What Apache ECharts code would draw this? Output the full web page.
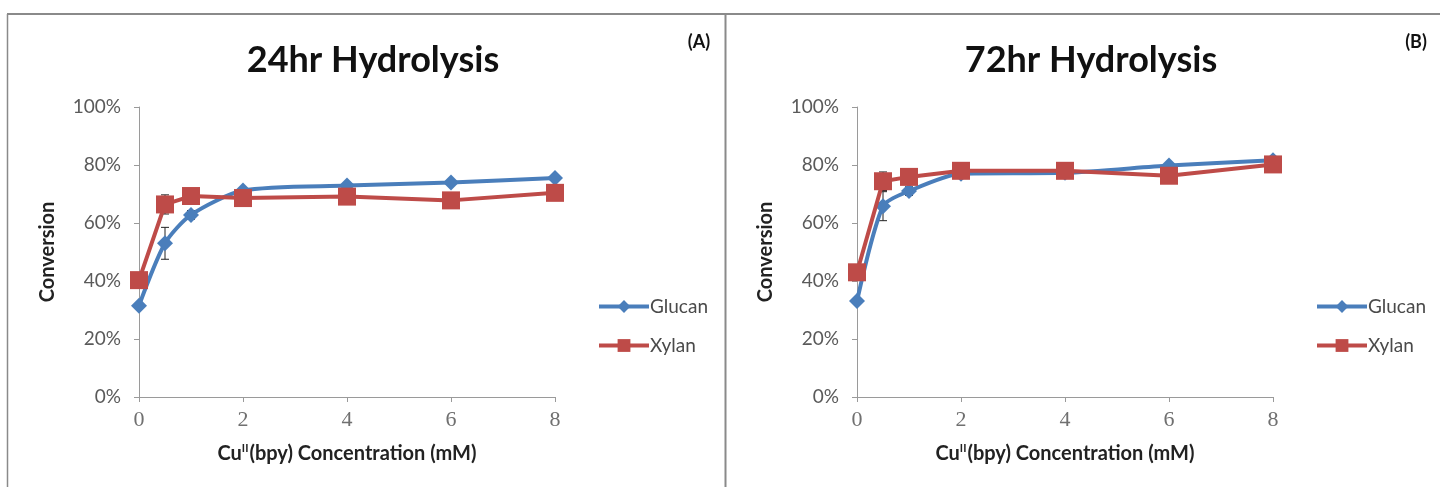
<!DOCTYPE html>
<html>
<head>
<meta charset="utf-8">
<script src="https://cdn.jsdelivr.net/npm/echarts@6/dist/echarts.min.js"></script>
<style>
html,body{margin:0;padding:0;background:#fff;}
#c{width:1440px;height:487px;}
</style>
</head>
<body>
<div id="c"></div>
<script>
// ---- data ----
const concentrations = [0, 0.5, 1, 2, 4, 6, 8];
const xTicks = [0, 2, 4, 6, 8];
const yTicks = [0, 20, 40, 60, 80, 100];
const panelTitles = ['24hr Hydrolysis', '72hr Hydrolysis'];
const panelTags = ['(A)', '(B)'];
const seriesNames = ['Glucan', 'Xylan'];
const glucan24 = [31.5, 53.0, 62.8, 71.2, 72.9, 74.0, 75.5];
const xylan24 = [40.3, 66.4, 69.3, 68.6, 69.1, 67.8, 70.4];
const glucan24Err = [1.0, 5.5, 1.5, 1.0, 1.0, 1.0, 1.0];
const xylan24Err = [1.0, 3.3, 1.0, 1.0, 1.0, 1.0, 1.0];
const glucan72 = [33.1, 65.8, 71.0, 77.0, 77.3, 79.8, 81.6];
const xylan72 = [43.0, 74.4, 75.9, 78.0, 78.0, 76.3, 80.2];
const glucan72Err = [1.0, 5.0, 1.5, 1.0, 1.0, 1.0, 1.0];
const xylan72Err = [1.0, 3.2, 1.0, 1.0, 1.0, 1.0, 1.0];

const BLUE = '#4A7EBB';
const RED = '#BE4B48';
const FONT = 'Lato, "Open Sans", sans-serif';

const panels = [
  {left: 139, legendLeft: 592, glucan: glucan24, xylan: xylan24, gErr: glucan24Err, xErr: xylan24Err, titleX: 368, tagX: 694},
  {left: 857, legendLeft: 1310, glucan: glucan72, xylan: xylan72, gErr: glucan72Err, xErr: xylan72Err, titleX: 1086, tagX: 1411}
];

const chart = echarts.init(document.getElementById('c'), null, {renderer: 'canvas'});

const grids = [], xAxes = [], yAxes = [], series = [], titles = [], legends = [];

function errSeries(idx, vals, errs) {
  return {
    type: 'custom', xAxisIndex: idx, yAxisIndex: idx, z: 1, silent: true,
    data: concentrations.map((c, i) => [c, vals[i] - errs[i], vals[i] + errs[i]]),
    renderItem: function (params, api) {
      const lo = api.coord([api.value(0), api.value(1)]);
      const hi = api.coord([api.value(0), api.value(2)]);
      const w = 4;
      const st = {stroke: '#222', lineWidth: 1};
      return {type: 'group', children: [
        {type: 'line', shape: {x1: lo[0], y1: lo[1], x2: hi[0], y2: hi[1]}, style: st},
        {type: 'line', shape: {x1: lo[0] - w, y1: lo[1], x2: lo[0] + w, y2: lo[1]}, style: st},
        {type: 'line', shape: {x1: hi[0] - w, y1: hi[1], x2: hi[0] + w, y2: hi[1]}, style: st}
      ]};
    }
  };
}

panels.forEach((p, idx) => {
  grids.push({left: p.left, top: 107, width: 416, height: 290});
  xAxes.push({
    type: 'value', gridIndex: idx, min: 0, max: 8, interval: 2,
    axisLine: {lineStyle: {color: '#9a9a9a', width: 1}},
    axisTick: {show: true, length: 5, lineStyle: {color: '#9a9a9a'}},
    splitLine: {show: false},
    axisLabel: {color: '#707070', fontFamily: 'Liberation Serif, serif', fontSize: 22, margin: 12,
      formatter: v => xTicks.includes(v) ? String(v) : ''},
    name: '{a|Cu}{s|II}{a|(bpy) Concentration (mM)}',
    nameLocation: 'middle', nameGap: 46,
    nameTextStyle: {rich: {
      a: {fontFamily: FONT, fontWeight: 'bold', fontSize: 20, color: '#222'},
      s: {fontFamily: FONT, fontWeight: 'bold', fontSize: 11, color: '#222', verticalAlign: 'top', padding: [0, 1, 10, 0]}
    }}
  });
  yAxes.push({
    type: 'value', gridIndex: idx, min: 0, max: 100, interval: 20,
    axisLine: {show: true, lineStyle: {color: '#9a9a9a', width: 1}},
    axisTick: {show: true, length: 5, lineStyle: {color: '#9a9a9a'}},
    splitLine: {show: false},
    axisLabel: {color: '#5a5a5a', fontFamily: FONT, fontSize: 19, margin: 18,
      formatter: v => yTicks.includes(v) ? v + '%' : ''},
    name: 'Conversion', nameLocation: 'middle', nameGap: 81, nameRotate: 90,
    nameTextStyle: {fontFamily: FONT, fontWeight: 'bold', fontSize: 20, color: '#222'}
  });
  series.push(errSeries(idx, p.glucan, p.gErr));
  series.push(errSeries(idx, p.xylan, p.xErr));
  series.push({
    name: seriesNames[0], type: 'line', xAxisIndex: idx, yAxisIndex: idx, z: 3,
    data: concentrations.map((c, i) => [c, p.glucan[i]]),
    smooth: 0.25,
    symbol: 'diamond', symbolSize: 16,
    lineStyle: {color: BLUE, width: 4}, itemStyle: {color: BLUE}
  });
  series.push({
    name: seriesNames[1], type: 'line', xAxisIndex: idx, yAxisIndex: idx, z: 4,
    data: concentrations.map((c, i) => [c, p.xylan[i]]),
    symbol: 'rect', symbolSize: 18,
    lineStyle: {color: RED, width: 4}, itemStyle: {color: RED}
  });
  titles.push({text: panelTitles[idx], left: p.titleX, top: 37, textAlign: 'center',
    textStyle: {fontFamily: FONT, fontWeight: 'bold', fontSize: 36, color: '#111'}});
  titles.push({text: panelTags[idx], left: p.tagX, top: 28, textAlign: 'center',
    textStyle: {fontFamily: FONT, fontWeight: 'bold', fontSize: 18, color: '#111'}});
  legends.push({
    left: p.legendLeft, top: 292, orient: 'vertical', itemGap: 20,
    itemWidth: 50, itemHeight: 16,
    lineStyle: {width: 4},
    data: seriesNames.map(n => ({name: n})),
    textStyle: {fontFamily: FONT, fontSize: 19, color: '#4a4a4a', padding: [0, 0, 0, -4]}
  });
});

chart.setOption({
  backgroundColor: '#fff',
  animation: false,
  title: titles,
  legend: legends,
  grid: grids,
  xAxis: xAxes,
  yAxis: yAxes,
  series: series,
  graphic: [
    {type: 'line', shape: {x1: 7, y1: 14, x2: 1440, y2: 14}, style: {stroke: '#8a8a8a', lineWidth: 2}},
    {type: 'line', shape: {x1: 7.5, y1: 14, x2: 7.5, y2: 487}, style: {stroke: '#8a8a8a', lineWidth: 1.5}},
    {type: 'line', shape: {x1: 725.5, y1: 14, x2: 725.5, y2: 487}, style: {stroke: '#8a8a8a', lineWidth: 2}}
  ]
});
</script>
</body>
</html>
